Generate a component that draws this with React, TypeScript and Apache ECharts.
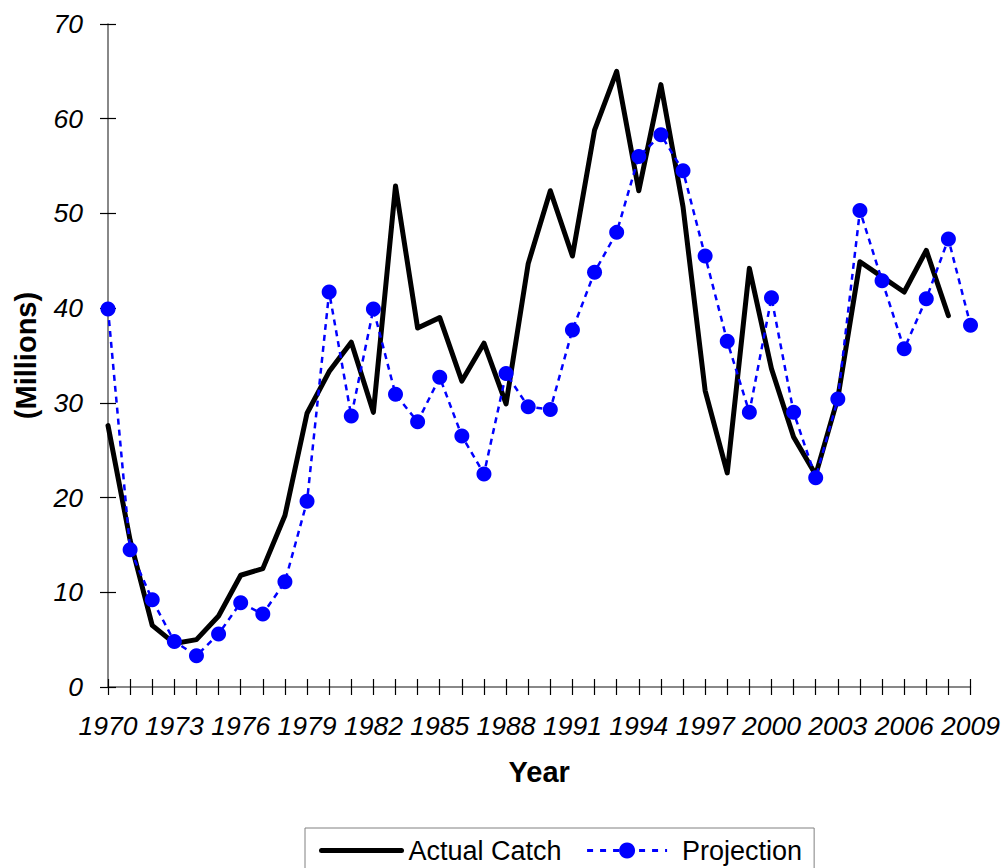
import React, { useEffect, useRef } from "react";
import * as echarts from "echarts";

const years: string[] = [
  "1970","1971","1972","1973","1974","1975","1976","1977","1978","1979",
  "1980","1981","1982","1983","1984","1985","1986","1987","1988","1989",
  "1990","1991","1992","1993","1994","1995","1996","1997","1998","1999",
  "2000","2001","2002","2003","2004","2005","2006","2007","2008","2009",
];

const actualCatch: (number | null)[] = [
  27.6, 15.5, 6.5, 4.6, 5.0, 7.5, 11.8, 12.5, 18.1, 28.9,
  33.3, 36.4, 29.0, 52.9, 37.9, 39.0, 32.3, 36.3, 29.9, 44.7,
  52.4, 45.5, 58.8, 65.0, 52.4, 63.6, 50.7, 31.3, 22.6, 44.2,
  33.6, 26.4, 22.4, 30.5, 44.9, 43.3, 41.7, 46.1, 39.2, null,
];

const projection: number[] = [
  39.9, 14.5, 9.2, 4.8, 3.3, 5.6, 8.9, 7.7, 11.1, 19.6,
  41.7, 28.6, 39.9, 30.9, 28.0, 32.7, 26.5, 22.5, 33.1, 29.6,
  29.3, 37.7, 43.8, 48.0, 56.0, 58.3, 54.5, 45.5, 36.5, 29.0,
  41.1, 29.0, 22.1, 30.4, 50.3, 42.9, 35.7, 41.0, 47.3, 38.2,
];

const FONT = "'Liberation Sans', Arial, sans-serif";

export default function App() {
  const ref = useRef<HTMLDivElement>(null);

  useEffect(() => {
    if (!ref.current) return;
    const chart = echarts.init(ref.current, undefined, { renderer: "svg" });
    chart.setOption({
      animation: false,
      backgroundColor: "#ffffff",
      textStyle: { fontFamily: FONT },
      grid: { left: 108, right: 32, top: 24, bottom: 181, containLabel: false },
      legend: {
        left: 305,
        top: 828,
        padding: [9, 12, 30, 14],
        borderColor: "#808080",
        borderWidth: 1,
        itemWidth: 80,
        itemHeight: 20,
        itemGap: 24,
        textStyle: { fontSize: 27, color: "#000", fontFamily: FONT, padding: [0, 0, 0, 2] },
        data: [
          {
            name: "Actual Catch",
            itemStyle: { color: "rgba(0,0,0,0)", borderWidth: 0, opacity: 0 },
            lineStyle: { width: 5, color: "#000000", cap: "round" },
          },
          {
            name: "Projection",
            lineStyle: { width: 3, color: "#0000ff", type: [6, 7] },
            textStyle: { padding: [0, 0, 0, 10] },
          },
        ],
      },
      xAxis: [
        {
          type: "category",
          data: years,
          boundaryGap: false,
          name: "Year",
          nameLocation: "middle",
          nameGap: 70,
          nameTextStyle: { fontSize: 29, fontWeight: "bold", color: "#000", fontFamily: FONT },
          axisLine: { lineStyle: { color: "#606060", width: 1.5 } },
          axisTick: { show: true, interval: 0, length: 8, lineStyle: { color: "#000", width: 1.2 } },
          axisLabel: {
            interval: 2,
            margin: 25,
            fontSize: 26.5,
            fontStyle: "italic",
            color: "#000",
            fontFamily: FONT,
          },
          splitLine: { show: false },
        },
        {
          type: "category",
          data: years,
          boundaryGap: false,
          position: "bottom",
          axisLine: { show: false },
          axisTick: { show: true, inside: true, interval: 0, length: 8, lineStyle: { color: "#000", width: 1.2 } },
          axisLabel: { show: false },
          splitLine: { show: false },
        },
      ],
      yAxis: [
        {
          type: "value",
          min: 0,
          max: 70,
          interval: 10,
          name: "(Millions)",
          nameLocation: "middle",
          nameGap: 68,
          nameTextStyle: { fontSize: 29, fontWeight: "bold", color: "#000", fontFamily: FONT },
          axisLine: { show: true, lineStyle: { color: "#606060", width: 1.5 } },
          axisTick: { show: true, length: 8, lineStyle: { color: "#000", width: 1.2 } },
          axisLabel: {
            margin: 25,
            fontSize: 26.5,
            fontStyle: "italic",
            color: "#000",
            fontFamily: FONT,
          },
          splitLine: { show: false },
        },
        {
          type: "value",
          min: 0,
          max: 70,
          interval: 10,
          position: "left",
          axisLine: { show: false },
          axisTick: { show: true, inside: true, length: 8, lineStyle: { color: "#000", width: 1.2 } },
          axisLabel: { show: false },
          splitLine: { show: false },
        },
      ],
      series: [
        {
          name: "Actual Catch",
          type: "line",
          data: actualCatch,
          xAxisIndex: 0,
          yAxisIndex: 0,
          symbol: "none",
          showSymbol: false,
          connectNulls: false,
          lineStyle: { color: "#000000", width: 5, join: "round", cap: "round" },
          itemStyle: { color: "#000000" },
          z: 2,
        },
        {
          name: "Projection",
          type: "line",
          data: projection,
          xAxisIndex: 0,
          yAxisIndex: 0,
          symbol: "circle",
          symbolSize: 15,
          showAllSymbol: true,
          lineStyle: { color: "#0000ff", width: 2.5, type: [6, 5] },
          itemStyle: { color: "#0000ff" },
          z: 3,
        },
      ],
    });
    return () => chart.dispose();
  }, []);

  return (
    <div
      ref={ref}
      style={{ position: "absolute", left: 0, top: 0, width: 1003, height: 868 }}
    />
  );
}
